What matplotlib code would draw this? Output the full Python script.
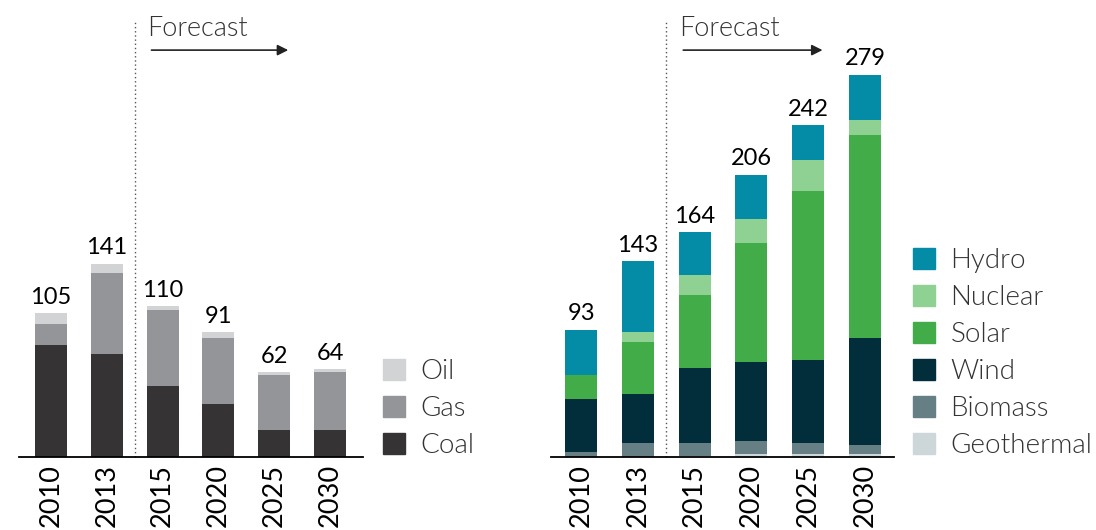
import numpy as np
import matplotlib
matplotlib.use("Agg")
from matplotlib import pyplot as plt
from matplotlib.patches import Patch

plt.rcParams['font.family'] = ['Lato', 'DejaVu Sans']

years = ['2010', '2013', '2015', '2020', '2025', '2030']

# fossil capacity (left panel)
coal = [82, 75, 52, 39, 20, 20]
gas = [15, 59, 55, 48, 40, 42]
oil = [8, 7, 3, 4, 2, 2]
fossil_totals = [105, 141, 110, 91, 62, 64]

# renewable / low carbon (right panel)
geothermal = [0, 0, 1, 2, 2, 2]
biomass = [4, 10, 9, 10, 8, 7]
wind = [38, 36, 55, 57, 61, 78]
solar = [18, 38, 53, 87, 123, 148]
nuclear = [0, 7, 15, 18, 23, 11]
hydro = [33, 52, 31, 32, 25, 33]
clean_totals = [93, 143, 164, 206, 242, 279]

fossil_colors = {'Coal': '#353334', 'Gas': '#939598', 'Oil': '#d1d3d4'}
clean_colors = {'Geothermal': '#cdd6d9', 'Biomass': '#667f85', 'Wind': '#022d3b',
                'Solar': '#41ac48', 'Nuclear': '#8fd093', 'Hydro': '#048ba5'}

LIGHT = 300

fig = plt.figure(figsize=(10.96, 5.30), dpi=100)
ax1 = fig.add_axes([19 / 1096, 73 / 530, 344 / 1096, 411 / 530])
ax2 = fig.add_axes([551 / 1096, 73 / 530, 343 / 1096, 411 / 530])


def stack(ax, series, colors, totals, width):
    x = np.arange(len(years))
    bottom = np.zeros(len(years))
    for name, vals in series:
        ax.bar(x, vals, width, bottom=bottom, color=colors[name], linewidth=0)
        bottom += np.array(vals)
    for xi, t in zip(x, totals):
        ax.text(xi, t + 4, str(t), ha='center', va='bottom', fontsize=17, color='black')
    ax.set_ylim(0, 300)
    ax.set_xticks(x)
    ax.set_xticklabels(years, rotation=90, fontsize=19.5)
    ax.tick_params(axis='x', length=0, pad=5)
    ax.set_yticks([])
    for s in ['left', 'right', 'top']:
        ax.spines[s].set_visible(False)
    ax.spines['bottom'].set_linewidth(1.3)
    # forecast marker
    tr = ax.get_xaxis_transform()
    ax.plot([1.5, 1.5], [0, 1.06], transform=tr, color='#555555', lw=1,
            linestyle=(0, (1, 2)), clip_on=False)
    ax.annotate('', xy=(4.3, 0.99), xytext=(1.75, 0.99), xycoords=tr, textcoords=tr,
                arrowprops=dict(arrowstyle='-|>', color='#222222', lw=1.2, mutation_scale=16))
    ax.text(1.72, 1.013, 'Forecast', transform=tr, fontsize=19.5, fontweight=LIGHT,
            color='#333333', ha='left', va='bottom')


stack(ax1, [('Coal', coal), ('Gas', gas), ('Oil', oil)], fossil_colors, fossil_totals, 0.573)
ax1.set_xlim(-0.573, 5.59)

stack(ax2, [('Geothermal', geothermal), ('Biomass', biomass), ('Wind', wind),
            ('Solar', solar), ('Nuclear', nuclear), ('Hydro', hydro)],
      clean_colors, clean_totals, 0.563)
ax2.set_xlim(-0.53, 5.51)

leg_kw = dict(frameon=False, fontsize=20, handlelength=0.8, handleheight=0.8,
              handletextpad=0.55, labelspacing=0.42, borderpad=0, borderaxespad=0)
h1 = [Patch(color=fossil_colors[n], label=n) for n in ['Oil', 'Gas', 'Coal']]
l1 = fig.legend(handles=h1, loc='lower left', bbox_to_anchor=(383 / 1096, 72 / 530), **leg_kw)
h2 = [Patch(color=clean_colors[n], label=n) for n in
      ['Hydro', 'Nuclear', 'Solar', 'Wind', 'Biomass', 'Geothermal']]
l2 = fig.legend(handles=h2, loc='lower left', bbox_to_anchor=(913 / 1096, 72 / 530), **leg_kw)
for leg in (l1, l2):
    for t in leg.get_texts():
        t.set_fontweight(LIGHT)
        t.set_color('#333333')

fig.savefig('out.png', dpi=100)
